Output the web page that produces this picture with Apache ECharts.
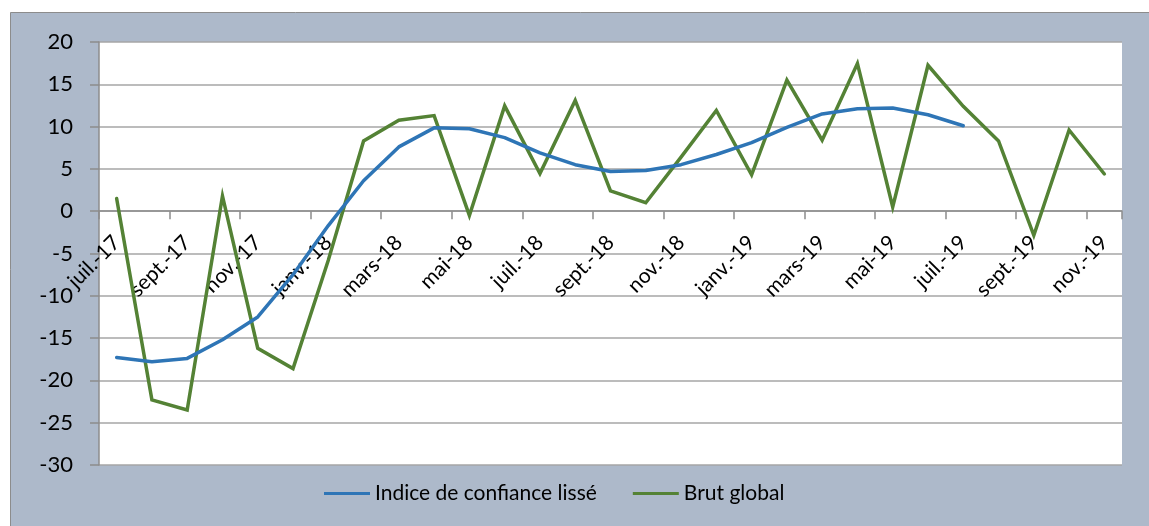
<!DOCTYPE html>
<html>
<head>
<meta charset="utf-8">
<script src="https://cdn.jsdelivr.net/npm/echarts@6/dist/echarts.min.js"></script>
<style>
html,body{margin:0;padding:0;background:#ffffff;}
#c{width:1149px;height:526px;}
</style>
</head>
<body>
<div id="c"></div>
<script>
var categories = ['juil.-17','août-17','sept.-17','oct.-17','nov.-17','déc.-17','janv.-18','févr.-18','mars-18','avr.-18','mai-18','juin-18','juil.-18','août-18','sept.-18','oct.-18','nov.-18','déc.-18','janv.-19','févr.-19','mars-19','avr.-19','mai-19','juin-19','juil.-19','août-19','sept.-19','oct.-19','nov.-19'];
var indiceLisse = [-17.3,-17.8,-17.4,-15.2,-12.5,-7.5,-1.7,3.6,7.6,9.85,9.75,8.7,6.9,5.5,4.7,4.8,5.5,6.7,8.1,9.9,11.5,12.1,12.2,11.4,10.1,null,null,null,null];
var brutGlobal = [1.5,-22.3,-23.5,1.8,-16.2,-18.6,-5.8,8.3,10.75,11.3,-0.5,12.45,4.45,13.1,2.4,1.0,6.4,11.9,4.3,15.5,8.4,17.45,0.5,17.25,12.4,8.3,-2.85,9.6,4.4];
var yTicks = {min:-30, max:20, interval:5};

var FONT = 'Lato';
var GRID = {left: 99, right: 27, top: 42, bottom: 61};
var chart = echarts.init(document.getElementById('c'));
function buildOption(xOffset) {
  return {
    backgroundColor: '#ffffff',
    animation: false,
    graphic: [{
      type: 'rect', z: -10, silent: true,
      shape: {x: 10.5, y: 12.5, width: 1200, height: 600},
      style: {fill: '#ADB9CA', stroke: '#8C8C8C', lineWidth: 1}
    }],
    grid: {left: GRID.left, right: GRID.right, top: GRID.top, bottom: GRID.bottom, containLabel: false, outerBoundsMode: 'none',
           show: true, backgroundColor: '#ffffff', borderWidth: 0},
    legend: {
      left: 319, top: 478,
      icon: 'rect', itemWidth: 46, itemHeight: 3, itemGap: 36,
      textStyle: {fontFamily: FONT, fontSize: 21, color: '#000000'},
      data: ['Indice de confiance lissé', 'Brut global']
    },
    xAxis: {
      type: 'category',
      data: categories,
      boundaryGap: true,
      position: 'bottom',
      offset: xOffset,
      axisLine: {onZero: false, lineStyle: {color: '#8C8C8C', width: 1.5}},
      axisTick: {show: true, interval: 1, length: 8, lineStyle: {color: '#8C8C8C', width: 1.5}},
      axisLabel: {interval: 1, rotate: 45, margin: 28, fontFamily: FONT, fontSize: 21, color: '#000000'},
      splitLine: {show: false}
    },
    yAxis: {
      type: 'value',
      min: yTicks.min, max: yTicks.max, interval: yTicks.interval,
      axisLine: {show: true, lineStyle: {color: '#8C8C8C', width: 1.5}},
      axisTick: {show: true, length: 9, lineStyle: {color: '#8C8C8C', width: 1.5}},
      axisLabel: {margin: 26, fontFamily: FONT, fontSize: 22, color: '#000000'},
      splitLine: {show: true, lineStyle: {color: '#A6A6A6', width: 1.5}}
    },
    series: [
      {name: 'Indice de confiance lissé', type: 'line', data: indiceLisse, showSymbol: false, symbol: 'none',
       lineStyle: {color: '#2E75B6', width: 3.5, join: 'round', cap: 'round'}, itemStyle: {color: '#2E75B6'}, z: 3},
      {name: 'Brut global', type: 'line', data: brutGlobal, showSymbol: false, symbol: 'none',
       lineStyle: {color: '#548235', width: 3.5, join: 'miter', cap: 'round'}, itemStyle: {color: '#548235'}, z: 2}
    ]
  };
}
chart.setOption(buildOption(0));
// place the category axis on the zero line of the value axis
var zeroY = chart.convertToPixel({yAxisIndex: 0}, 0);
var bottomY = chart.convertToPixel({yAxisIndex: 0}, yTicks.min);
chart.setOption(buildOption(-(bottomY - zeroY)));
</script>
</body>
</html>
